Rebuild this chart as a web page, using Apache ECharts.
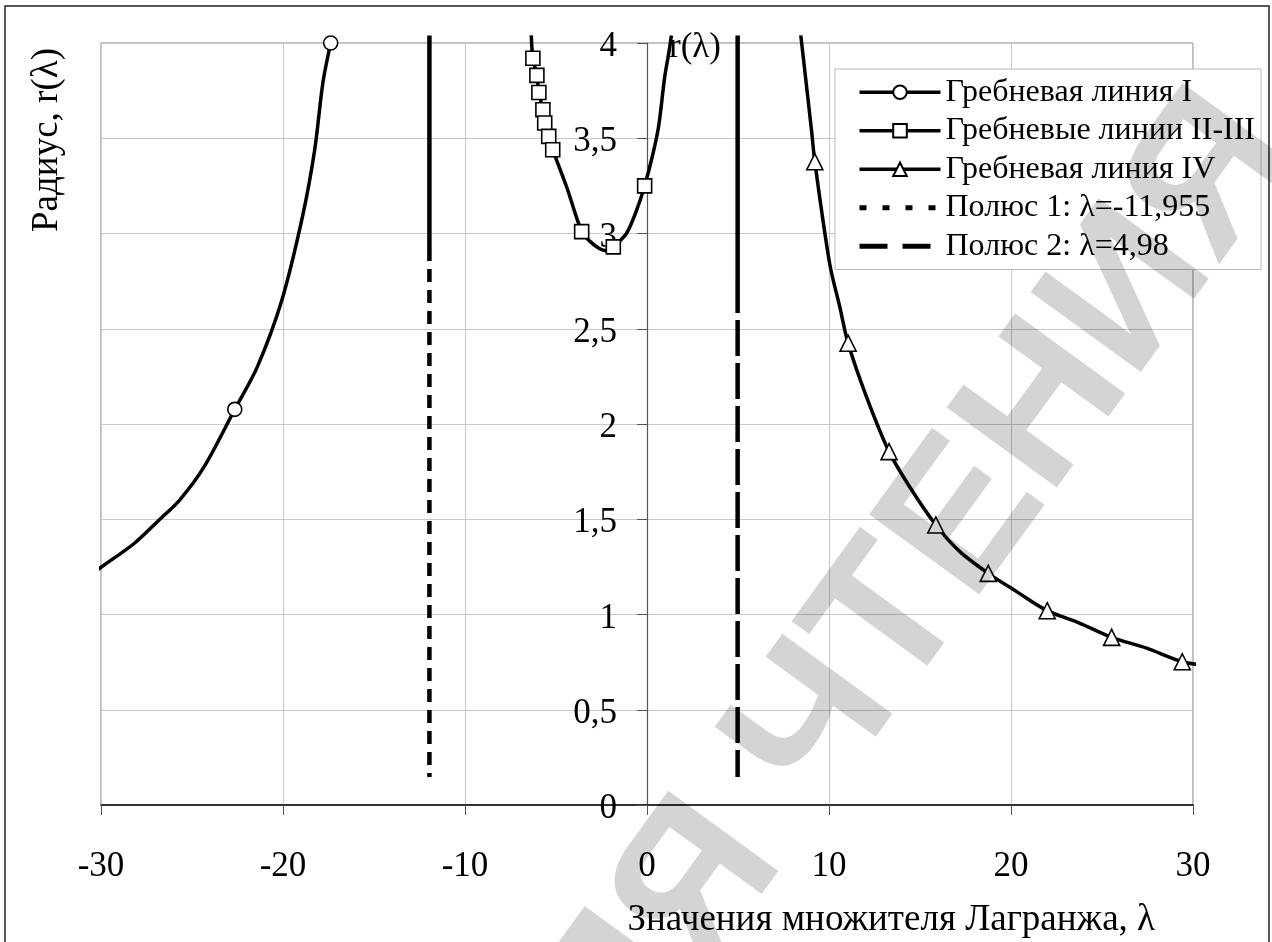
<!DOCTYPE html>
<html>
<head>
<meta charset="utf-8">
<script src="https://cdn.jsdelivr.net/npm/echarts@6/dist/echarts.min.js"></script>
<style>
  html, body { margin: 0; padding: 0; background: #fff; }
  #chart { width: 1272px; height: 942px; }
</style>
</head>
<body>
<div id="chart"></div>
<script>
// гребневая линия I
const line1X = [-30.41, -30.0, -28.16, -26.81, -25.68, -24.33, -22.65, -21.41, -20.06, -18.93, -18.26, -17.81, -17.38];
const line1Y = [1.219, 1.248, 1.374, 1.496, 1.601, 1.776, 2.077, 2.30, 2.651, 3.088, 3.438, 3.79, 4.0];
const line1Marks = [6, 12];

// гребневые линии II-III
const line23X = [-6.36, -6.27, -6.05, -5.94, -5.72, -5.62, -5.40, -5.18, -4.40, -3.59, -3.15, -2.60, -2.23, -1.85, -1.13, -0.58, -0.13, 0.33, 0.65, 0.97, 1.20, 1.34];
const line23Y = [4.04, 3.92, 3.83, 3.74, 3.65, 3.58, 3.51, 3.44, 3.24, 3.01, 2.96, 2.92, 2.91, 2.93, 3.00, 3.12, 3.25, 3.42, 3.57, 3.82, 3.95, 4.04];
const line23Marks = [1, 2, 3, 4, 5, 6, 7, 9, 13, 16];

// гребневая линия IV
const line4X = [8.45, 9.04, 9.22, 10.04, 10.59, 11.05, 12.06, 13.30, 14.50, 15.87, 17.19, 18.75, 20.31, 21.99, 23.79, 25.53, 27.45, 29.41, 30.55];
const line4Y = [4.04, 3.54, 3.377, 2.84, 2.616, 2.424, 2.143, 1.855, 1.66, 1.47, 1.33, 1.216, 1.12, 1.02, 0.954, 0.88, 0.823, 0.752, 0.735];
const line4Marks = [2, 5, 7, 9, 11, 13, 15, 17];

// полюса
const pole1 = -11.955;
const pole2 = 4.98;
const pole1Y = [4.04, 2.924, 0.147];   // верх, конец сплошного участка, низ
const pole2Y = [4.04, 2.772, 0.147];

const xRange = [-30, 30];
const xStep = 10;
const yRange = [0, 4];
const yStep = 0.5;

const names = [
  'Гребневая линия I',
  'Гребневые линии II-III',
  'Гребневая линия IV',
  'Полюс 1: λ=-11,955',
  'Полюс 2: λ=4,98'
];

const FONT = '"Liberation Serif", "DejaVu Serif", serif';

function makeData(xs, ys, marks) {
  return xs.map((x, i) => marks.includes(i) ? [x, ys[i]] : { value: [x, ys[i]], symbol: 'none' });
}

function ridge(name, xs, ys, marks, symbol, size) {
  return {
    name: name,
    type: 'line',
    data: makeData(xs, ys, marks),
    smooth: 0.3,
    symbol: symbol,
    symbolSize: size,
    showAllSymbol: true,
    clip: false,
    z: 4,
    lineStyle: { color: '#000', width: 3.5 },
    itemStyle: { color: '#fff', borderColor: '#000', borderWidth: 1.6 }
  };
}

function pole(name, x, ys, dash) {
  return [
    {
      name: name,
      type: 'line',
      data: [[x, ys[1]], [x, ys[2]]],
      symbol: 'none',
      symbolSize: 0,
      clip: false,
      z: 3,
      itemStyle: { color: '#000', opacity: 0 },
      lineStyle: { color: '#000', width: 4.5, type: dash, cap: 'butt' }
    },
    {
      name: name + ' ',
      type: 'line',
      data: [[x, ys[0]], [x, ys[1]]],
      symbol: 'none',
      clip: false,
      z: 3,
      lineStyle: { color: '#000', width: 4.5, type: 'solid', cap: 'butt' }
    }
  ];
}

const chart = echarts.init(document.getElementById('chart'));

// ось Y проходит через λ = 0
const gridLeft = 101, gridRight = 79;
const plotW = 1272 - gridLeft - gridRight;
const yAxisOffset = -plotW * (0 - xRange[0]) / (xRange[1] - xRange[0]);

const option = {
  backgroundColor: '#fff',
  animation: false,
  grid: {
    left: gridLeft, right: gridRight, top: 43, bottom: 137,
    show: true, borderColor: '#808080', borderWidth: 1
  },
  xAxis: {
    type: 'value',
    min: xRange[0], max: xRange[1], interval: xStep,
    axisLine: { onZero: false, lineStyle: { color: '#000', width: 1.5 } },
    axisTick: { show: true, length: 10, lineStyle: { color: '#555' } },
    axisLabel: { fontFamily: FONT, fontSize: 35, color: '#000', margin: 44, lineHeight: 35 },
    splitLine: { show: true, lineStyle: { color: '#c8c8c8', width: 1 } }
  },
  yAxis: {
    type: 'value',
    position: 'left',
    offset: yAxisOffset,
    min: yRange[0], max: yRange[1], interval: yStep,
    name: 'r(λ)',
    nameLocation: 'end',
    nameGap: -5,
    nameTextStyle: {
      fontFamily: FONT, fontSize: 35, color: '#000',
      align: 'left', verticalAlign: 'middle', padding: [0, 0, 0, 22]
    },
    axisLine: { onZero: false, lineStyle: { color: '#555', width: 1.2 } },
    axisTick: { show: true, length: 10, lineStyle: { color: '#555' } },
    axisLabel: {
      fontFamily: FONT, fontSize: 35, color: '#000', margin: 30,
      verticalAlign: 'top', lineHeight: 8,
      formatter: v => String(v).replace('.', ',')
    },
    splitLine: { show: true, lineStyle: { color: '#c8c8c8', width: 1 } }
  },
  legend: {
    orient: 'vertical',
    left: 835,
    top: 69,
    padding: [4, 6, 4, 22],
    itemGap: 0,
    itemWidth: 81,
    itemHeight: 17,
    backgroundColor: '#fff',
    borderColor: '#b8b8b8',
    borderWidth: 1,
    lineStyle: { width: 3.5 },
    textStyle: { fontFamily: FONT, fontSize: 32, color: '#000', lineHeight: 38.5 },
    data: [
      { name: names[0] },
      { name: names[1] },
      { name: names[2] },
      { name: names[3], itemStyle: { opacity: 0 }, lineStyle: { type: [7, 16], width: 5 } },
      { name: names[4], itemStyle: { opacity: 0 }, lineStyle: { type: [28, 15], width: 5 } }
    ]
  },
  graphic: [
    {
      type: 'text', x: 47, y: 140, rotation: Math.PI / 2, silent: true,
      style: { text: 'Радиус, r(λ)', font: '37px "Liberation Serif", "DejaVu Serif", serif', fill: '#000', align: 'center', verticalAlign: 'middle' }
    },
    {
      type: 'text', x: 1155, y: 920, silent: true,
      style: { text: 'Значения множителя Лагранжа, λ', font: '37px "Liberation Serif", "DejaVu Serif", serif', fill: '#000', align: 'right', verticalAlign: 'middle' }
    },
    {
      type: 'rect', silent: true, z: 10,
      shape: { x: 5, y: 6, width: 1264, height: 960 },
      style: { fill: 'none', stroke: '#222', lineWidth: 1.5 }
    },
    {
      type: 'text', x: 875, y: 645, rotation: 54 * Math.PI / 180, silent: true, z: 100,
      style: { text: 'ДЛЯ ЧТЕНИЯ', font: 'bold 198px "Liberation Sans"', fill: 'rgba(0,0,0,0.17)', align: 'center', verticalAlign: 'middle' }
    }
  ],
  series: [
    ridge(names[0], line1X, line1Y, line1Marks, 'circle', 14),
    ridge(names[1], line23X, line23Y, line23Marks, 'rect', 14),
    ridge(names[2], line4X, line4Y, line4Marks, 'triangle', 16),
    ...pole(names[3], pole1, pole1Y, [13, 8]),
    ...pole(names[4], pole2, pole2Y, [36, 7])
  ]
};

chart.setOption(option);
</script>
</body>
</html>
